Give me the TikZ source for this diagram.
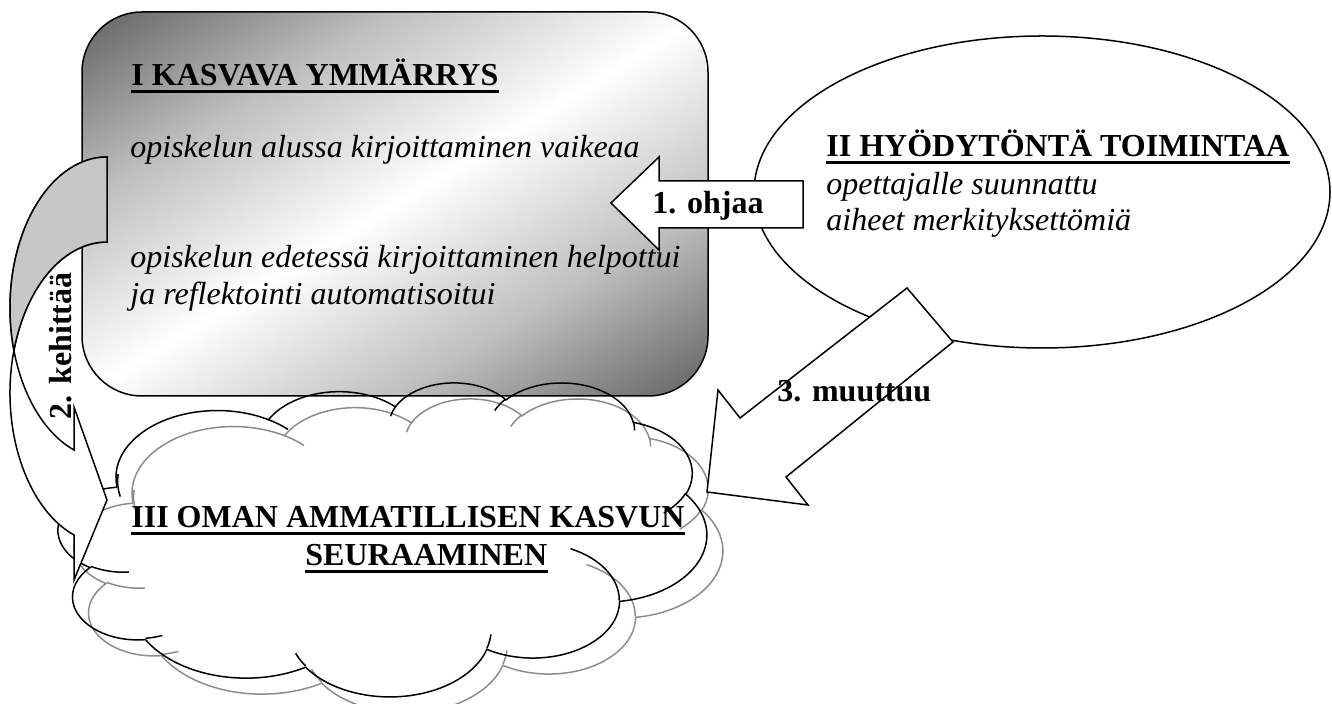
\documentclass[tikz,border=0pt]{standalone}
\usepackage{fontspec}
\setmainfont{Liberation Serif}
\usetikzlibrary{shapes.geometric}

% grey-white-grey band for the rounded box, dark only towards the corners
\pgfdeclareverticalshading{boxshade}{100bp}{color(0bp)=(black!62); color(25bp)=(black!62);
  color(37.5bp)=(black!25); color(50bp)=(white); color(62.5bp)=(black!25);
  color(75bp)=(black!62); color(100bp)=(black!62)}

% One lobe of the cloud: elliptical arc whose start and sweep are given as
% angles seen from the centre (not parametric), radii in cloud-box units.
\newcommand\carc[4]{arc[x radius=#1, y radius=#2,
  start angle={cpa(#3,#1,#2)},
  delta angle={(#4)/abs(#4)*mod((#4)/abs(#4)*(cpa((#3)+(#4),#1,#2)-cpa(#3,#1,#2))+720,360)}]}

% Cloud outline in a 432 x 432 box, y pointing down
\newcommand\cloudrim{(39.00,143.70)
  \carc{67.53}{91.90}{-190.48748}{123.78053}
  \carc{53.33}{72.67}{-144.10238}{89.94523}
  \carc{43.65}{59.45}{-145.80792}{99.72302}
  \carc{48.57}{65.95}{-130.98607}{117.24173}
  \carc{53.33}{72.73}{-78.70888}{109.02692}
  \carc{67.75}{92.20}{-46.26725}{130.269}
  \carc{57.85}{78.67}{0.62502}{114.03333}
  \carc{67.52}{92.15}{22.4516}{115.17255}
  \carc{77.20}{105.43}{66.24263}{75.71102}
  \carc{43.60}{59.18}{-274.94208}{146.73557}
  \carc{43.45}{59.45}{-246.8285}{152.51885} -- cycle}

% Inner crease arcs of the cloud
\newcommand\cloudcreases{
  (46.93,261.77) \carc{43.45}{59.45}{86.742}{26.4295}
  (69.28,348.99) \carc{43.60}{59.18}{73.61047}{11.44747}
  (164.78,390.90) \carc{67.52}{92.15}{137.62415}{14.0811}
  (288.27,347.51) \carc{67.52}{92.15}{6.45327}{15.99835}
  (341.29,229.54) \carc{57.85}{78.67}{-70.29235}{70.91737}
  (417.98,153.54) \carc{53.33}{72.73}{30.31803}{27.7515}
  (383.24,54.26) \carc{48.57}{65.95}{-13.74433}{14.8589}
  (290.78,39.52) \carc{48.57}{65.95}{-149.18145}{18.19537}
  (221.41,47.20) \carc{43.65}{59.45}{-163.49427}{17.68635}
  (140.00,51.92) \carc{67.53}{91.90}{-66.70695}{12.31935}
  (41.27,157.89) \carc{67.53}{91.90}{162.04877}{26.28895}}

\begin{document}
\begin{tikzpicture}[x=0.5pt, y=-0.5pt,
  declare function={cpa(\a,\r,\q)=atan2(\r*sin(\a),\q*cos(\a));},
  outline/.style={draw=black, line width=0.75pt, line join=miter},
  head/.style={font=\fontsize{16}{19}\selectfont\bfseries, inner sep=0pt, anchor=base west},
  body/.style={font=\fontsize{16}{19}\selectfont\itshape, inner sep=0pt, anchor=base west},
  ul/.style={line width=1.5pt},
  cloudline/.style={x=0.7502pt, y=-0.3633pt, line width=0.75pt},
]
\useasboundingbox (0,0) rectangle (1332,704);

% I: rounded box with a diagonal grey-white-grey shading
\begin{scope}
  \clip[rounded corners=30pt] (82,12) rectangle (708,396);
  \shade[transform canvas={shift={(395,204)}, rotate=31.5}, shading=boxshade]
    (-430,-327) rectangle (430,327);
\end{scope}
\node[outline, rounded corners=30pt, minimum width=313pt, minimum height=192pt,
  inner sep=0pt] (ky) at (395,204) {};

% II: ellipse
\node[outline, ellipse, fill=white, minimum width=288pt, minimum height=156pt,
  inner sep=0pt] (hy) at (1042,192) {};

% III: cloud with its grey shadow outline
\begin{scope}[shift={(74.4,397.9)}, cloudline, draw=black!45]
  \draw \cloudrim;
  \draw \cloudcreases;
\end{scope}
\begin{scope}[shift={(58.4,381.9)}, cloudline]
  \draw \cloudrim;
  \draw \cloudcreases;
\end{scope}

% 2: curved arrow on the left
\coordinate (ctop) at (107,157);
\coordinate (cinner) at (107,242);
\path[outline, fill=white] (ctop)
  arc[x radius=97, y radius=151, start angle=-90, end angle=-250.11]
  -- (74,407) -- (107,500) -- (74,580) -- (74,535)
  arc[x radius=97, y radius=151, start angle=-250.11, end angle=-90] -- cycle;
\path[outline, fill=black!22] (ctop)
  arc[x radius=97, y radius=151, start angle=-90, end angle=-196.35]
  arc[x radius=97, y radius=151, start angle=-163.65, end angle=-90] -- (cinner) -- cycle;

% 1: block arrow pointing left
\path[outline, fill=white] (611,203) -- (659,157) -- (659,181) -- (803,181)
  -- (803,228) -- (659,228) -- (659,250) -- cycle;

% 3: block arrow pointing down-left
\path[outline, fill=white] (707,492) -- (718,390) -- (740,418) -- (907,288)
  -- (953,342) -- (786,477) -- (808,505) -- cycle;

% texts of box I
\node[head] (t1) at (131,86) {I KASVAVA YMMÄRRYS};
\draw[ul] ([yshift=-2.6pt]t1.base west) -- ([yshift=-2.6pt]t1.base east);
\node[body] (l1) at (130,158) {opiskelun alussa kirjoittaminen vaikeaa};
\node[body] (l2) at (130,268) {opiskelun edetessä kirjoittaminen helpottui};
\node[body] (l3) at (130,305) {ja reflektointi automatisoitui};

% texts of ellipse II
\node[head] (t2) at (826,157) {II HYÖDYTÖNTÄ TOIMINTAA};
\draw[ul] ([yshift=-2.6pt]t2.base west) -- ([yshift=-2.6pt]t2.base east);
\node[body] (l4) at (826,195) {opettajalle suunnattu};
\node[body] (l5) at (826,231) {aiheet merkityksettömiä};

% texts of cloud III
\node[head] (t3) at (131,528) {III OMAN AMMATILLISEN KASVUN};
\draw[ul] ([yshift=-2.6pt]t3.base west) -- ([yshift=-2.6pt]t3.base east);
\node[head] (t4) at (305,566) {SEURAAMINEN};
\draw[ul] ([yshift=-2.6pt]t4.base west) -- ([yshift=-2.6pt]t4.base east);

% arrow labels
\node[head] (a1) at (652,214) {1. ohjaa};
\node[head, rotate=90, anchor=base] (a2) at (71,346) {2. kehittää};
\node[head] (a3) at (777,402) {3. muuttuu};
\end{tikzpicture}
\end{document}
